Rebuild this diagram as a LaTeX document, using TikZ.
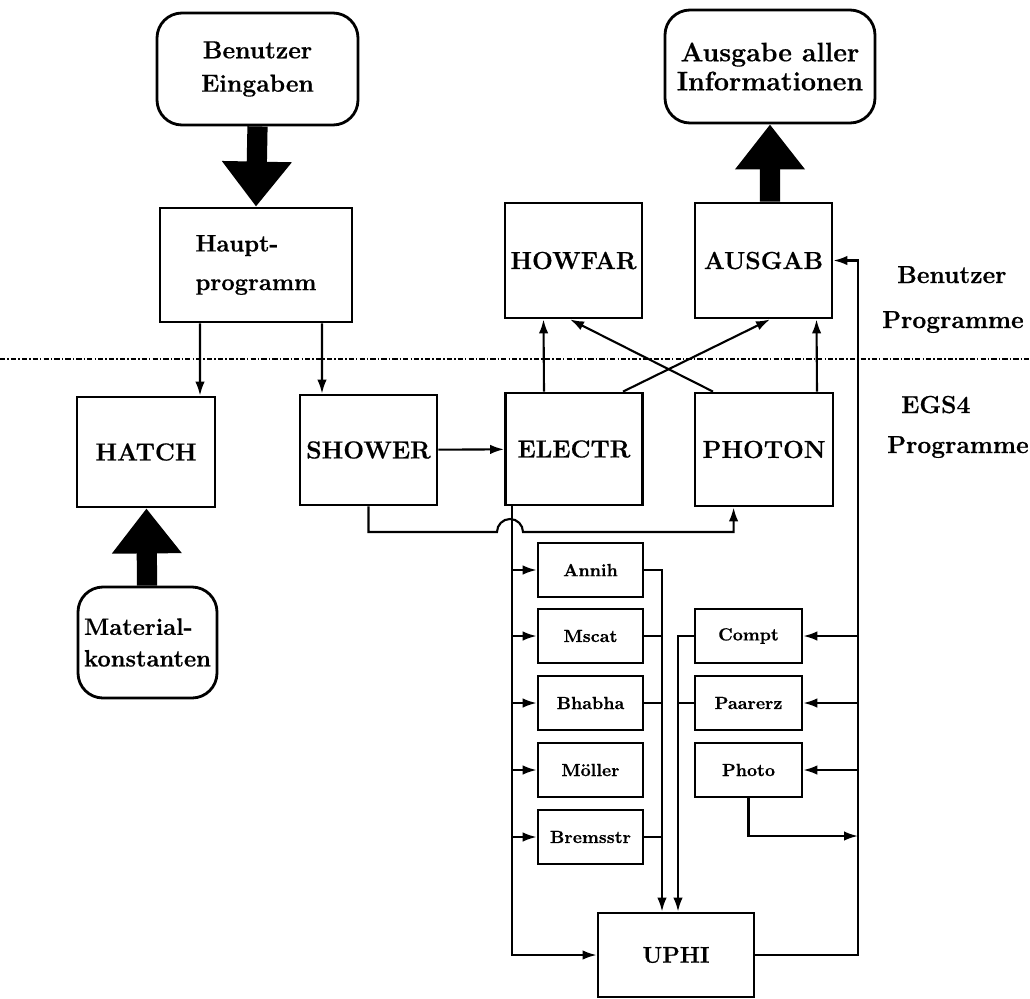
\documentclass[tikz,border=0pt]{standalone}
\usepackage{fontspec}
\setmainfont{Latin Modern Roman}[BoldFeatures={FakeBold=0.6}]
\usetikzlibrary{arrows.meta}

\tikzset{
  box/.style={draw, line width=1.6pt, inner sep=1pt, align=center,
    font=\fontsize{14}{19}\selectfont\bfseries},
  term/.style={box, rounded corners=5mm},
  sub/.style={draw, line width=1.5pt, inner sep=1pt, minimum width=21mm,
    minimum height=10.8mm, font=\fontsize{10}{12}\selectfont\bfseries},
  arr/.style={line width=1.2pt, -{Latex[length=2.8mm,width=1.9mm]}},
  fat/.style={line width=11.5pt, -{Triangle[width=13.4mm,length=9mm]}},
  lbl/.style={anchor=base west, font=\fontsize{14}{19}\selectfont\bfseries}
}

\begin{document}
\begin{tikzpicture}[x=0.2mm,y=-0.2mm]
  \useasboundingbox (0,0) rectangle (1030,998);

  % user side
  \node[term, minimum width=40.2mm, minimum height=22.4mm] (eing) at (257.5,69) {Benutzer\\Eingaben};
  \node[term, minimum width=42mm, minimum height=22.6mm,
    font=\fontsize{15.2}{16.5}\selectfont\bfseries] (ausg) at (770,66.5) {Ausgabe aller\\Informationen};
  \node[box, align=left, minimum width=38.4mm, minimum height=22.8mm,
    font=\fontsize{13.5}{22}\selectfont\bfseries] (haupt) at (256,265) {Haupt-\\programm};
  \node[box, minimum width=27.4mm, minimum height=23mm] (howfar) at (573.5,260.5) {HOWFAR};
  \node[box, minimum width=27.4mm, minimum height=23mm] (ausgab) at (763.5,260.5) {AUSGAB};

  % EGS4 side
  \node[box, minimum width=27.6mm, minimum height=22mm] (hatch) at (146,452) {HATCH};
  \node[box, minimum width=27.4mm, minimum height=22mm] (shower) at (368.5,450) {SHOWER};
  \node[box, minimum width=27.4mm, minimum height=22.4mm] (electr) at (574,449) {ELECTR};
  \node[box, minimum width=27.6mm, minimum height=22.6mm] (photon) at (764,449.5) {PHOTON};
  \node[term, align=left, minimum width=27.8mm, minimum height=22.2mm, inner sep=0pt,
    font=\fontsize{13.5}{18}\selectfont\bfseries] (mat) at (147.5,642.5) {Material-\\konstanten};

  \node[sub] (annih) at (590.5,570) {Annih};
  \node[sub] (mscat) at (590.5,636) {Mscat};
  \node[sub] (bhabha) at (590.5,703) {Bhabha};
  \node[sub] (moeller) at (590.5,770) {Möller};
  \node[sub] (brems) at (590.5,837) {Bremsstr};
  \node[sub, minimum width=21.4mm] (compt) at (748.5,636) {Compt};
  \node[sub, minimum width=21.4mm] (paarerz) at (748.5,703) {Paarerz};
  \node[sub, minimum width=21.4mm] (photo) at (748.5,770) {Photo};
  \node[box, minimum width=31.2mm, minimum height=16.8mm,
    font=\fontsize{13}{16}\selectfont\bfseries] (uphi) at (676,955) {UPHI};

  \node[lbl] (bp1) at (891,283) {Benutzer};
  \node[lbl] (bp2) at (876,328) {Programme};
  \node[lbl] (ep1) at (895,413) {EGS4};
  \node[lbl] (ep2) at (881,453) {Programme};

  % separation line
  \draw[line width=1.1pt, dash pattern=on 3pt off 1.2pt on 0.8pt off 1.2pt] (0,359) -- (1030,359);

  % bus lines
  \coordinate (lbus) at (512,0);
  \coordinate (rbus) at (858,0);
  \coordinate (abus) at (662,0);
  \coordinate (cbus) at (678,0);
  \coordinate (hop) at (510,532);
  \coordinate (pout) at (858,836);

  \draw[fat] (eing.south) -- (haupt.north);
  \draw[fat] ([xshift=1.3mm]ausgab.north) -- (ausg.south);
  \draw[fat] (mat) -- (hatch);

  \draw[arr] ([xshift=-11.2mm]haupt.south) -- ([xshift=10.8mm]hatch.north);
  \draw[arr] ([xshift=13.2mm]haupt.south) -- ([xshift=-9.3mm]shower.north);
  \draw[arr] (shower) -- (electr);
  \draw[arr] ([xshift=-6mm]electr.north) -- ([xshift=-6mm]howfar.south);
  \draw[arr] ([xshift=10.6mm]photon.north) -- ([xshift=10.6mm]ausgab.south);
  \draw[arr] ([xshift=9.8mm]electr.north) -- ([xshift=1.3mm]ausgab.south);
  \draw[arr] ([xshift=-10.2mm]photon.north) -- ([xshift=-0.7mm]howfar.south);

  \draw[arr] (shower.south) |- ([xshift=-2.6mm]hop) arc[start angle=180,end angle=360,radius=13]
    -| ([xshift=8mm]photon.south west);

  \draw[arr] (lbus |- electr.south) |- (uphi.west);
  \foreach \n in {annih,mscat,bhabha,moeller,brems}
    \draw[arr] (lbus |- \n) -- (\n.west);

  \draw[arr] (annih.east) -| (abus |- uphi.north);
  \foreach \n in {mscat,bhabha,brems}
    \draw[line width=1.2pt] (\n.east) -- (abus |- \n);

  \draw[arr] (compt.west) -| (cbus |- uphi.north);
  \draw[line width=1.2pt] (paarerz.west) -- (cbus |- paarerz);

  \draw[arr] (uphi.east) -| (rbus |- ausgab.east) -- (ausgab.east);
  \foreach \n in {compt,paarerz,photo}
    \draw[arr] (rbus |- \n) -- (\n.east);
  \draw[arr] (photo.south) |- (pout);
\end{tikzpicture}
\end{document}
